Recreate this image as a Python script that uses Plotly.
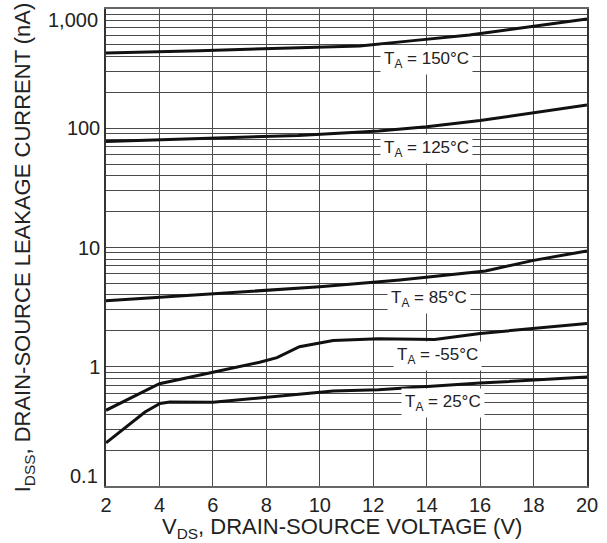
import math
import plotly.graph_objects as go

# Drain-source leakage current vs. drain-source voltage, per junction temperature
v_150 = [2.0, 5.5, 8.9, 10.4, 11.5, 13.4, 15.6, 17.8, 20.0]
i_150 = [429, 446, 472, 482, 491, 541, 607, 708, 825]

v_125 = [2.0, 5.5, 9.2, 12.2, 14.0, 16.0, 18.0, 20.0]
i_125 = [77.5, 82, 87, 95, 103, 116, 134, 157]

v_85 = [2.0, 5.5, 8.0, 10.0, 13.0, 16.2, 18.0, 20.0]
i_85 = [3.57, 4.01, 4.33, 4.68, 5.35, 6.36, 7.8, 9.35]

v_m55 = [2.0, 4.0, 6.0, 7.75, 8.4, 9.24, 10.5, 12.2, 14.3, 16.0, 20.0]
i_m55 = [0.431, 0.721, 0.90, 1.09, 1.19, 1.47, 1.66, 1.72, 1.69, 1.90, 2.31]

v_25 = [2.0, 3.46, 4.02, 4.39, 6.0, 8.0, 9.24, 10.5, 12.2, 14.7, 16.0, 20.0]
i_25 = [0.230, 0.417, 0.491, 0.506, 0.503, 0.557, 0.586, 0.625, 0.642, 0.697, 0.729, 0.818]

curve_labels = ["T<sub>A</sub> = 150°C", "T<sub>A</sub> = 125°C", "T<sub>A</sub> = 85°C",
                "T<sub>A</sub> = -55°C", "T<sub>A</sub> = 25°C"]
label_v = [14.0, 14.0, 14.1, 14.4, 14.6]
label_i = [375, 66.5, 3.72, 1.22, 0.493]

x_ticks = [2, 4, 6, 8, 10, 12, 14, 16, 18, 20]
y_ticks = [0.1, 1, 10, 100, 1000]
y_ticktext = ["0.1", "1", "10", "100", "1,000"]

FONT = "Liberation Sans, Arial, sans-serif"
GRID = "#4a4a4a"
TXT = "#222222"

fig = go.Figure()
for vx, iy in [(v_150, i_150), (v_125, i_125), (v_85, i_85), (v_m55, i_m55), (v_25, i_25)]:
    fig.add_trace(go.Scatter(x=vx, y=iy, mode="lines",
                             line=dict(color="#111111", width=3),
                             showlegend=False, hoverinfo="skip"))

# curve labels sit on white boxes that break the grid behind them
for txt, lx, ly in zip(curve_labels, label_v, label_i):
    fig.add_annotation(x=lx, y=math.log10(ly), xref="x", yref="y", text=txt,
                       showarrow=False,
                       font=dict(family=FONT, size=17, color=TXT),
                       bgcolor="white", borderpad=3)

# the end-of-range decade labels are tucked inside the plot height
inner = ["" if v in (y_ticks[0], y_ticks[-1]) else t for v, t in zip(y_ticks, y_ticktext)]
fig.add_annotation(x=0, xref="paper", y=math.log10(y_ticks[-1]), yref="y",
                   text=y_ticktext[-1], showarrow=False, xanchor="right", yanchor="top",
                   xshift=-6, yshift=2, font=dict(family=FONT, size=20, color=TXT))
fig.add_annotation(x=0, xref="paper", y=math.log10(y_ticks[0]), yref="y",
                   text=y_ticktext[0], showarrow=False, xanchor="right", yanchor="bottom",
                   xshift=-6, yshift=-3, font=dict(family=FONT, size=20, color=TXT))

# x-axis title placed just under the tick labels
fig.add_annotation(x=0.49, xref="paper", y=0, yref="paper",
                   text="V<sub>DS</sub>, DRAIN-SOURCE VOLTAGE (V)", showarrow=False,
                   xanchor="center", yanchor="top", yshift=-26,
                   font=dict(family=FONT, size=22, color=TXT))

minor_vals = [m * 10 ** d for d in range(-1, 3) for m in range(2, 10)]

fig.update_layout(
    width=607, height=543,
    margin=dict(l=106, r=20, t=7, b=57),
    paper_bgcolor="white", plot_bgcolor="white",
    font=dict(family=FONT, size=20, color=TXT),
    xaxis=dict(range=[2, 20], tickvals=x_ticks, ticks="",
               showgrid=True, gridcolor=GRID, gridwidth=1,
               showline=True, linecolor="#666666", linewidth=1.5, mirror=True,
               zeroline=False,
               tickfont=dict(size=20)),
    yaxis=dict(type="log", range=[-1.0005, 3.0005], tickvals=y_ticks, ticktext=inner,
               ticks="", showgrid=True, gridcolor=GRID, gridwidth=1,
               minor=dict(tickvals=minor_vals, showgrid=True, gridcolor=GRID,
                          gridwidth=1, ticks=""),
               showline=True, linecolor="#333333", linewidth=1.5, mirror=True,
               zeroline=False,
               tickfont=dict(size=20),
               title=dict(text="I<sub>DSS</sub>, DRAIN-SOURCE LEAKAGE CURRENT (nA)",
                          font=dict(size=22), standoff=30)),
)

fig.write_html("out.html")
